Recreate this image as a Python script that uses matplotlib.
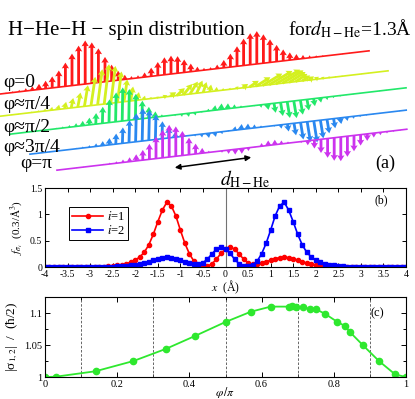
import numpy as np
import matplotlib
matplotlib.use('Agg')
import matplotlib.pyplot as plt

plt.rcParams['font.family'] = ['Liberation Serif', 'DejaVu Serif']
plt.rcParams['mathtext.fontset'] = 'stix'
plt.rcParams['axes.unicode_minus'] = False

#-------------------------------------------------------------------------------
# data
x_pos = [-4.0, -3.9, -3.8, -3.7, -3.6, -3.5, -3.4, -3.3, -3.2, -3.1,
         -3.0, -2.9, -2.8, -2.7, -2.6, -2.5, -2.4, -2.3, -2.2, -2.1,
         -2.0, -1.9, -1.8, -1.7, -1.6, -1.5, -1.4, -1.3, -1.2, -1.1,
         -1.0, -0.9, -0.8, -0.7, -0.6, -0.5, -0.4, -0.3, -0.2, -0.1,
          0.0,  0.1,  0.2,  0.3,  0.4,  0.5,  0.6,  0.7,  0.8,  0.9,
          1.0,  1.1,  1.2,  1.3,  1.4,  1.5,  1.6,  1.7,  1.8,  1.9,
          2.0,  2.1,  2.2,  2.3,  2.4,  2.5,  2.6,  2.7,  2.8,  2.9,
          3.0,  3.1,  3.2,  3.3,  3.4,  3.5,  3.6,  3.7,  3.8,  3.9, 4.0]

f_i1 = [0, 0, 0, 0, 0, 0, 0, 0, 0.001, 0.001,
        0.002, 0.003, 0.005, 0.008, 0.012, 0.02, 0.03, 0.045, 0.065, 0.09,
        0.13, 0.19, 0.28, 0.42, 0.62, 0.86, 1.08, 1.23, 1.16, 0.97,
        0.70, 0.45, 0.25, 0.11, 0.04, 0.012, 0.015, 0.06, 0.15, 0.26,
        0.34, 0.38, 0.34, 0.25, 0.15, 0.08, 0.05, 0.05, 0.07, 0.10,
        0.13, 0.16, 0.18, 0.185, 0.18, 0.16, 0.13, 0.10, 0.075, 0.055,
        0.04, 0.03, 0.02, 0.014, 0.01, 0.007, 0.005, 0.003, 0.002, 0.001,
        0.0, 0, 0, 0, 0, 0, 0, 0, 0, 0, 0]

f_i2 = [0, 0, 0, 0, 0, 0, 0, 0, 0, 0,
        0.0, 0.001, 0.002, 0.003, 0.005, 0.007, 0.01, 0.014, 0.02, 0.03,
        0.04, 0.055, 0.075, 0.10, 0.13, 0.16, 0.18, 0.185, 0.18, 0.16,
        0.13, 0.10, 0.07, 0.05, 0.05, 0.08, 0.15, 0.25, 0.34, 0.38,
        0.34, 0.26, 0.15, 0.06, 0.015, 0.012, 0.04, 0.11, 0.25, 0.45,
        0.70, 0.97, 1.16, 1.23, 1.08, 0.86, 0.62, 0.42, 0.28, 0.19,
        0.13, 0.09, 0.065, 0.045, 0.03, 0.02, 0.012, 0.008, 0.005, 0.003,
        0.002, 0.001, 0.001, 0, 0, 0, 0, 0, 0, 0, 0]

phi_pi = [0, 0.03, 0.14, 0.245, 0.335, 0.415, 0.5, 0.57, 0.625, 0.675, 0.685,
          0.695, 0.715, 0.735, 0.75, 0.775, 0.81, 0.83, 0.845, 0.88, 0.925,
          0.97, 1.0]
sigma12 = [1.0, 1.0005, 1.009, 1.025, 1.044, 1.064, 1.086, 1.102, 1.110, 1.110,
           1.111, 1.110, 1.109, 1.106, 1.106, 1.099, 1.086, 1.080, 1.070, 1.050,
           1.025, 1.004, 1.0]

# panel (a): spin orientation of electron 2 for each curve (projected)
curve_labels = ['φ=0', 'φ≈π/4', 'φ≈π/2', 'φ≈3π/4', 'φ=π']
spin2_dir = [(0, 1), (0.85, 0.35), (0.1, -0.75), (0.12, -0.9), (0, -1)]
curve_cols = ['#ff1a1a', '#d4f020', '#22e86a', '#2a88f0', '#cc33ee']

#-------------------------------------------------------------------------------
fig = plt.figure(figsize=(4.15, 3.99), dpi=100)

# panel (a) drawn in pixel coordinates with a simple perspective
ax_a = fig.add_axes([0, 0, 1, 1], zorder=0)
ax_a.set_xlim(0, 415)
ax_a.set_ylim(399, 0)
ax_a.axis('off')

xc = [171, 190, 208, 228, 255]
yc = [74, 94, 111, 131, 147]
px_per_A = 66.0
slope = 0.117

xa = np.array(x_pos)
f1 = np.array(f_i1)
f2 = np.array(f_i2)
keep = (xa >= -3.0) & (xa <= 3.0)
xa, f1, f2 = xa[keep], f1[keep], f2[keep]
scl = 27.0 * (1 - 0.108 * xa)

for k in range(5):
    X = xc[k] + px_per_A * xa
    Y = yc[k] - slope * px_per_A * xa
    m = X <= 409
    vx = f2 * spin2_dir[k][0]
    vy = f1 + f2 * spin2_dir[k][1]
    ax_a.plot(X[m], Y[m], color=curve_cols[k], lw=1.2, zorder=2 * k + 1)
    ax_a.quiver(X[m], Y[m], (scl * vx)[m], (-scl * vy)[m], color=curve_cols[k],
                angles='xy', scale_units='xy', scale=1, units='xy',
                width=2.8, headwidth=2.6, headlength=2.1, headaxislength=1.9,
                minlength=0.3, zorder=2 * k + 2)

ax_a.text(8, 35, 'H−He−H − spin distribution', fontsize=15, va='baseline')
ax_a.text(288, 35, r'for$d_{\mathrm{H-He}}$=1.3Å', fontsize=14, va='baseline')

lab_pos = [(3, 87), (3, 109), (3, 132), (3, 152), (20, 168)]
for k in range(5):
    ax_a.text(lab_pos[k][0], lab_pos[k][1], curve_labels[k], fontsize=14,
              va='baseline', zorder=20)

ax_a.annotate('', xy=(254, 157), xytext=(172, 168),
              arrowprops=dict(arrowstyle='<|-|>', lw=1.1, color='k',
                              mutation_scale=8), zorder=20)
ax_a.text(245, 179, r'$d_{\mathrm{H-He}}$', fontsize=14, ha='center', va='center')
ax_a.text(385, 163, '(a)', fontsize=13, ha='center', va='center', zorder=20)

# panel (b)
ax_b = fig.add_axes([0.1084, 0.3308, 0.870, 0.198], zorder=1)
ax_b.axvline(0, color='0.45', lw=0.8)
ax_b.plot(x_pos, f_i1, color='red', lw=1.2, marker='o', ms=3, label='$i$=1')
ax_b.plot(x_pos, f_i2, color='blue', lw=1.2, marker='s', ms=2.5, label='$i$=2')
ax_b.set_xlim(-4, 4)
ax_b.set_ylim(0, 1.5)
ax_b.set_xticks(np.arange(-4, 4.01, 0.5))
ax_b.set_xticklabels(['%g' % v for v in np.arange(-4, 4.01, 0.5)])
ax_b.set_yticks([0, 0.5, 1, 1.5])
ax_b.set_yticklabels(['0', '0.5', '1', '1.5'])
ax_b.tick_params(direction='in', top=True, right=True, labelsize=7, length=3,
                 width=0.7, pad=2)
ax_b.set_xlabel('$x$  (Å)', fontsize=8.5, labelpad=0)
ax_b.set_ylabel(r'$f_{\sigma_i}$  (0.3/Å$^3$)', fontsize=8, labelpad=3)
ax_b.text(0.93, 0.85, '(b)', transform=ax_b.transAxes, fontsize=8.5,
          ha='center', va='center')
leg = ax_b.legend(loc='upper left', bbox_to_anchor=(0.066, 0.76), borderaxespad=0,
                  fancybox=False, edgecolor='k', fontsize=9, handlelength=2.5,
                  handletextpad=0.3, borderpad=0.25, labelspacing=0.1, framealpha=1)
leg.get_frame().set_linewidth(0.7)
for s in ax_b.spines.values():
    s.set_linewidth(0.8)

# panel (c)
ax_c = fig.add_axes([0.1084, 0.0551, 0.870, 0.2005], zorder=1)
for v in [0.1, 0.3, 0.5, 0.7, 0.9]:
    ax_c.axvline(v, color='0.3', lw=0.6, ls=(0, (3, 2)))
ax_c.plot(phi_pi, sigma12, color='#2ee82e', lw=1.3, marker='o', ms=4.5)
ax_c.set_xlim(0, 1)
ax_c.set_ylim(1, 1.125)
ax_c.set_xticks([0, 0.2, 0.4, 0.6, 0.8, 1])
ax_c.set_xticklabels(['0', '0.2', '0.4', '0.6', '0.8', '1'])
ax_c.set_xticks([0.1, 0.3, 0.5, 0.7, 0.9], minor=True)
ax_c.set_yticks([1, 1.05, 1.1])
ax_c.set_yticklabels(['1', '1.05', '1.1'])
ax_c.set_yticks([1.025, 1.075, 1.125], minor=True)
ax_c.tick_params(which='both', direction='in', top=True, right=True, labelsize=7.5,
                 width=0.7, pad=2)
ax_c.tick_params(which='major', length=3.5)
ax_c.tick_params(which='minor', length=2)
ax_c.set_xlabel(r'$\varphi\,/\pi$', fontsize=8.5, labelpad=-2.5)
ax_c.set_ylabel(r'|σ$_{1,2}$|  /  (ħ/2)', fontsize=9.5, labelpad=3)
ax_c.text(0.92, 0.8, '(c)', transform=ax_c.transAxes, fontsize=9,
          ha='center', va='center')
for s in ax_c.spines.values():
    s.set_linewidth(0.8)

fig.savefig('out.png', dpi=100)
